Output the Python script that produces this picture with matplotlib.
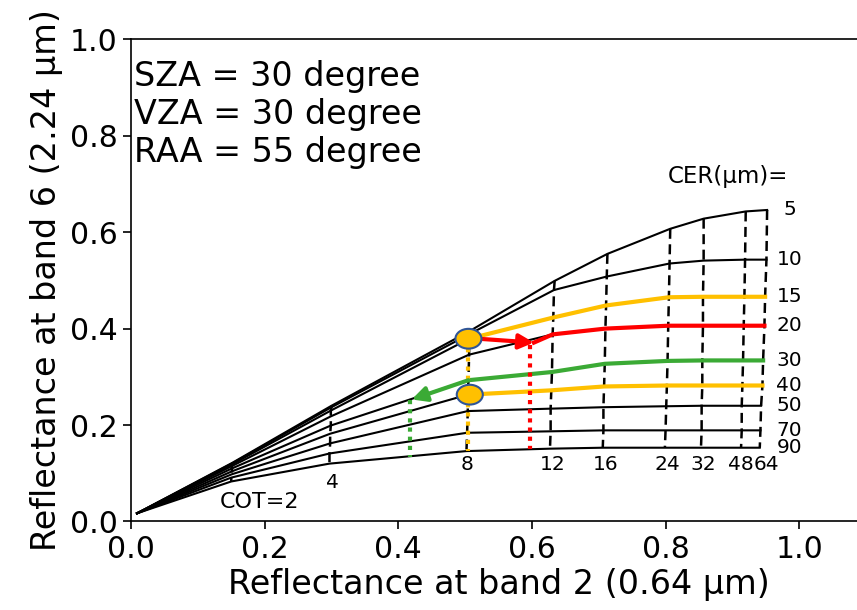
import numpy as np
import matplotlib.pyplot as plt
from matplotlib.patches import Ellipse

# LUT: one row per CER, one column per COT
cer = [5, 10, 15, 20, 30, 40, 50, 70, 90]
cot = [0, 2, 4, 8, 12, 16, 24, 32, 48, 64]

# reflectance at band 2 (0.64 um)
r064 = np.array([
	[0.009, 0.152, 0.300, 0.507, 0.634, 0.713, 0.807, 0.857, 0.920, 0.952],
	[0.009, 0.152, 0.300, 0.507, 0.633, 0.712, 0.806, 0.857, 0.919, 0.951],
	[0.009, 0.152, 0.299, 0.506, 0.632, 0.711, 0.805, 0.856, 0.918, 0.949],
	[0.009, 0.151, 0.299, 0.506, 0.631, 0.710, 0.804, 0.856, 0.917, 0.948],
	[0.009, 0.151, 0.299, 0.505, 0.630, 0.709, 0.803, 0.855, 0.916, 0.946],
	[0.009, 0.151, 0.298, 0.504, 0.629, 0.708, 0.802, 0.855, 0.915, 0.945],
	[0.009, 0.151, 0.298, 0.504, 0.628, 0.707, 0.801, 0.854, 0.914, 0.943],
	[0.009, 0.150, 0.297, 0.503, 0.628, 0.707, 0.800, 0.854, 0.914, 0.942],
	[0.009, 0.150, 0.297, 0.502, 0.627, 0.706, 0.799, 0.853, 0.913, 0.941],
])

# reflectance at band 6 (2.24 um)
r224 = np.array([
	[0.017, 0.122, 0.240, 0.395, 0.499, 0.555, 0.607, 0.628, 0.643, 0.646],
	[0.017, 0.121, 0.237, 0.389, 0.480, 0.508, 0.535, 0.541, 0.543, 0.543],
	[0.017, 0.119, 0.230, 0.379, 0.423, 0.448, 0.465, 0.466, 0.466, 0.466],
	[0.017, 0.115, 0.218, 0.346, 0.388, 0.400, 0.406, 0.406, 0.406, 0.406],
	[0.017, 0.110, 0.199, 0.293, 0.310, 0.327, 0.333, 0.334, 0.334, 0.334],
	[0.017, 0.104, 0.182, 0.263, 0.272, 0.280, 0.282, 0.282, 0.282, 0.282],
	[0.017, 0.098, 0.162, 0.229, 0.234, 0.237, 0.239, 0.240, 0.240, 0.240],
	[0.017, 0.091, 0.141, 0.184, 0.187, 0.189, 0.189, 0.189, 0.189, 0.189],
	[0.017, 0.083, 0.120, 0.146, 0.151, 0.153, 0.153, 0.153, 0.153, 0.153],
])

# COT numbers drawn under the grid
cot_shown = [8, 12, 16, 24, 32, 48, 64]
cot_label_x = [0.503, 0.631, 0.711, 0.803, 0.857, 0.912, 0.951]

# retrieval sketch points
obs_hi = (0.505, 0.379)
obs_lo = (0.507, 0.263)
red_tip = (0.603, 0.371)
red_x = 0.597
green_tip = (0.420, 0.253)
green_x = 0.418

gold = '#FFC000'
red = '#FF0000'
green = '#3BAA35'

fig = plt.figure(figsize=(8.57, 6.1), dpi=100)
ax = fig.add_axes([0.1529, 0.1451, 0.8576, 0.7905])

# constant-CER curves
for i in range(len(cer)):
	ax.plot(r064[i], r224[i], color='black', lw=1.5, zorder=2)

# constant-COT lines
for j in range(1, len(cot)):
	ax.plot(r064[:, j], r224[:, j], color='black', lw=1.8, ls=(0, (4, 2.2)), zorder=2)

# coloured overlays
k8 = cot.index(8)
ax.plot(r064[2, k8:], r224[2, k8:], color=gold, lw=3, zorder=3)
ax.plot(r064[5, k8:], r224[5, k8:], color=gold, lw=3, zorder=3)

sel = r064[3] > red_tip[0]
ax.plot(np.r_[red_tip[0], r064[3, sel]], np.r_[red_tip[1], r224[3, sel]], color=red, lw=3, zorder=3)
ax.annotate('', xy=red_tip, xytext=(obs_hi[0] + 0.015, obs_hi[1]),
	arrowprops=dict(arrowstyle='-|>', color=red, lw=3, mutation_scale=22, shrinkA=0, shrinkB=0), zorder=4)

ax.plot(r064[4, k8:], r224[4, k8:], color=green, lw=3, zorder=3)
ax.annotate('', xy=green_tip, xytext=(r064[4, k8], r224[4, k8]),
	arrowprops=dict(arrowstyle='-|>', color=green, lw=3, mutation_scale=22, shrinkA=0, shrinkB=0), zorder=4)

# dotted drop lines
ax.plot([obs_hi[0], obs_hi[0]], [obs_hi[1], 0.146], color=gold, lw=3, ls=(0, (1, 1.2)), zorder=3)
ax.plot([red_x, red_x], [0.366, 0.151], color=red, lw=3, ls=(0, (1, 1.2)), zorder=3)
ax.plot([green_x, green_x], [0.252, 0.134], color=green, lw=3, ls=(0, (1, 1.2)), zorder=3)

for c in (obs_hi, obs_lo):
	ax.add_patch(Ellipse(c, 0.039, 0.041, facecolor=gold, edgecolor='#2F5597', lw=1.5, zorder=5))

# labels
for i, c in enumerate(cer):
	ax.text(0.966 if c != 5 else 0.976, r224[i, -1], str(c), fontsize=14.5, va='center', ha='left')
for c, x in zip(cot_shown, cot_label_x):
	ax.text(x, 0.107, str(c), fontsize=14.5, ha='center', va='baseline')
ax.text(0.302, 0.069, '4', fontsize=14.5, ha='center', va='baseline')
ax.text(0.192, 0.028, 'COT=2', fontsize=16, ha='center', va='baseline')
ax.text(0.894, 0.702, 'CER(µm)=', fontsize=16.5, ha='center', va='baseline')

ax.text(0.005, 0.904, 'SZA = 30 degree', fontsize=24, va='baseline')
ax.text(0.005, 0.825, 'VZA = 30 degree', fontsize=24, va='baseline')
ax.text(0.005, 0.746, 'RAA = 55 degree', fontsize=24, va='baseline')

ax.set_xlim(0, 1.1)
ax.set_ylim(0, 1.0)
ax.set_xticks([0.0, 0.2, 0.4, 0.6, 0.8, 1.0])
ax.set_yticks([0.0, 0.2, 0.4, 0.6, 0.8, 1.0])
ax.tick_params(labelsize=21.5, length=6, width=1.2)
for s in ax.spines.values():
	s.set_linewidth(1.2)
ax.set_xlabel('Reflectance at band 2 (0.64 µm)', fontsize=24, labelpad=3)
ax.set_ylabel('Reflectance at band 6 (2.24 µm)', fontsize=24, labelpad=5)

fig.savefig('out.png', dpi=100)
